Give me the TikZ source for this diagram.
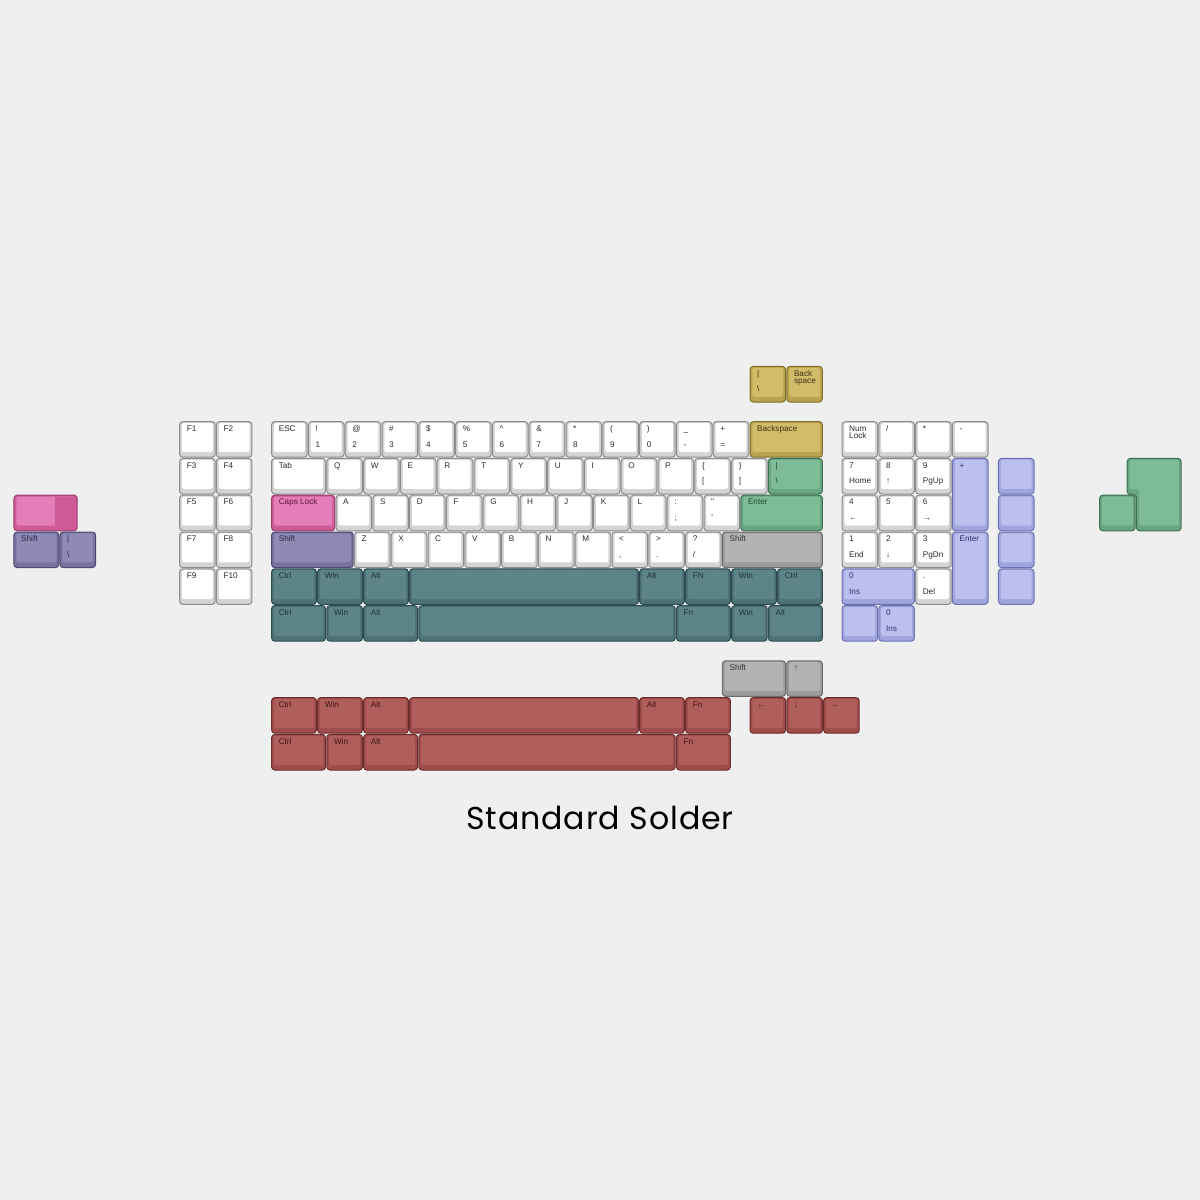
\documentclass[tikz,border=0pt]{standalone}
\usepackage{fontspec}
\usepackage{tikz}
\newfontfamily\keyfont{Liberation Sans}
\newfontfamily\titlefont{Poppins}[LetterSpace=3.0]

\definecolor{paper}{HTML}{EFEFEF}
\definecolor{whiteline}{HTML}{8C8C8C}\definecolor{whiterim}{HTML}{D4D4D4}
\definecolor{whitetop}{HTML}{FFFFFF}\definecolor{whiteink}{HTML}{2B2B2B}
\definecolor{tealline}{HTML}{2E4C4F}\definecolor{tealrim}{HTML}{4E7377}
\definecolor{tealtop}{HTML}{5D8488}\definecolor{tealink}{HTML}{1F3335}
\definecolor{redline}{HTML}{6B2C2C}\definecolor{redrim}{HTML}{9E4D4C}
\definecolor{redtop}{HTML}{B05E5C}\definecolor{redink}{HTML}{3D1616}
\definecolor{yelline}{HTML}{7F6F2E}\definecolor{yelrim}{HTML}{BBA24E}
\definecolor{yeltop}{HTML}{D2BC69}\definecolor{yelink}{HTML}{3E3410}
\definecolor{grnline}{HTML}{3D7153}\definecolor{grnrim}{HTML}{67A680}
\definecolor{grntop}{HTML}{7EBC98}\definecolor{grnink}{HTML}{1F4630}
\definecolor{pnkline}{HTML}{9A3C6C}\definecolor{pnkrim}{HTML}{CC5B97}
\definecolor{pnktop}{HTML}{E47DB8}\definecolor{pnkink}{HTML}{5A1A3C}
\definecolor{purline}{HTML}{4C4870}\definecolor{purrim}{HTML}{77729E}
\definecolor{purtop}{HTML}{8E89B5}\definecolor{purink}{HTML}{2A2745}
\definecolor{gryline}{HTML}{6C6C6C}\definecolor{gryrim}{HTML}{9B9B9B}
\definecolor{grytop}{HTML}{B3B3B3}\definecolor{gryink}{HTML}{333333}
\definecolor{lavline}{HTML}{6D72B2}\definecolor{lavrim}{HTML}{A1A5DD}
\definecolor{lavtop}{HTML}{BCC0EE}\definecolor{lavink}{HTML}{2D3170}

% name, colour, x, y, width, height, top legend, bottom legend
\newcommand{\keycap}[8]{%
  \node[cap=#2, minimum width=#5*18.4pt-0.6pt, minimum height=#6*18.4pt-0.6pt]
    (#1) at ([shift={(0.3pt,-0.3pt)}]#3,#4) {};
  \node[legend, text=#2ink] at ([shift={(3.4pt,-4.8pt)}]#1.north west) {#7};
  \node[legend, text=#2ink] at ([shift={(3.4pt,-12.7pt)}]#1.north west) {#8};
}

\begin{document}
\begin{tikzpicture}[
        x=18.4pt, y=-18.4pt,
        cap/.style={anchor=north west, draw=#1line, fill=#1rim, line width=0.5pt,
          rounded corners=1.6pt, inner sep=0pt, outer sep=0pt,
          path picture={\fill[#1top, rounded corners=1pt]
            ([shift={(1.2pt,-0.7pt)}]path picture bounding box.north west) rectangle
            ([shift={(-1.2pt,2.6pt)}]path picture bounding box.south east);}},
        legend/.style={anchor=base west, inner sep=0pt,
          font=\keyfont\fontsize{4.1pt}{4.4pt}\selectfont},
    ]
        \path[use as bounding box, fill=paper] (-135.5pt,210.5pt) rectangle (464.5pt,-389.5pt);

        % function keys
        \foreach \t [count=\i from 0] in {F1,F3,F5,F7,F9}
          {\keycap{fl\i}{white}{-2.5}{\i}{1}{1}{\t}{}}
        \foreach \t [count=\i from 0] in {F2,F4,F6,F8,F10}
          {\keycap{fr\i}{white}{-1.5}{\i}{1}{1}{\t}{}}

        % number row
        \foreach \x/\t/\b [count=\i] in {0/ESC/{}, 1/!/1, 2/@/2, 3/{\#}/3, 4/{\$}/4,
            5/{\%}/5, 6/{\^{}}/6, 7/{\&}/7, 8/*/8, 9/{(}/9, 10/{)}/0, 11/{\_}/-, 12/+/=}
          {\keycap{num\i}{white}{\x}{0}{1}{1}{\t}{\b}}
        \keycap{bksp}{yel}{13}{0}{2}{1}{Backspace}{}

        % alpha rows
        \keycap{tab}{white}{0}{1}{1.5}{1}{Tab}{}
        \foreach \t [count=\i from 0] in {Q,W,E,R,T,Y,U,I,O,P}
          {\keycap{top\i}{white}{1.5+\i}{1}{1}{1}{\t}{}}
        \keycap{lbrk}{white}{11.5}{1}{1}{1}{\{}{[}
        \keycap{rbrk}{white}{12.5}{1}{1}{1}{\}}{]}
        \keycap{bslash}{grn}{13.5}{1}{1.5}{1}{|}{\textbackslash}

        \keycap{caps}{pnk}{0}{2}{1.75}{1}{Caps Lock}{}
        \foreach \t [count=\i from 0] in {A,S,D,F,G,H,J,K,L}
          {\keycap{home\i}{white}{1.75+\i}{2}{1}{1}{\t}{}}
        \keycap{semi}{white}{10.75}{2}{1}{1}{:}{;}
        \keycap{quote}{white}{11.75}{2}{1}{1}{"}{'}
        \keycap{enter}{grn}{12.75}{2}{2.25}{1}{Enter}{}

        \keycap{lshift}{pur}{0}{3}{2.25}{1}{Shift}{}
        \foreach \t [count=\i from 0] in {Z,X,C,V,B,N,M}
          {\keycap{bot\i}{white}{2.25+\i}{3}{1}{1}{\t}{}}
        \keycap{comma}{white}{9.25}{3}{1}{1}{<}{,}
        \keycap{period}{white}{10.25}{3}{1}{1}{>}{.}
        \keycap{slash}{white}{11.25}{3}{1}{1}{?}{/}
        \keycap{rshift}{gry}{12.25}{3}{2.75}{1}{Shift}{}

        % teal modifier rows
        \foreach \x/\w/\t [count=\i] in {0/1.25/Ctrl, 1.25/1.25/Win, 2.5/1.25/Alt,
            3.75/6.25/{}, 10/1.25/Alt, 11.25/1.25/FN, 12.5/1.25/Win, 13.75/1.25/Ctrl}
          {\keycap{mod\i}{teal}{\x}{4}{\w}{1}{\t}{}}
        \foreach \x/\w/\t [count=\i] in {0/1.5/Ctrl, 1.5/1/Win, 2.5/1.5/Alt,
            4/7/{}, 11/1.5/Fn, 12.5/1/Win, 13.5/1.5/Alt}
          {\keycap{wkl\i}{teal}{\x}{5}{\w}{1}{\t}{}}

        % extra yellow keys
        \keycap{xpipe}{yel}{13}{-1.5}{1}{1}{|}{\textbackslash}
        \keycap{xbksp}{yel}{14}{-1.5}{1}{1}{Back}{}
        \node[legend, text=yelink] (xspace) at ([shift={(3.4pt,-8.6pt)}]xbksp.north west) {space};

        % numpad
        \keycap{numlock}{white}{15.5}{0}{1}{1}{Num}{}
        \node[legend, text=whiteink] (locklabel) at ([shift={(3.4pt,-8.6pt)}]numlock.north west) {Lock};
        \foreach \x/\t [count=\i] in {16.5/{/}, 17.5/*, 18.5/-}
          {\keycap{kpop\i}{white}{\x}{0}{1}{1}{\t}{}}
        \foreach \x/\y/\t/\b [count=\i] in {15.5/1/7/Home, 16.5/1/8/↑, 17.5/1/9/PgUp,
            15.5/2/4/←, 16.5/2/5/{}, 17.5/2/6/→, 15.5/3/1/End, 16.5/3/2/↓,
            17.5/3/3/PgDn, 17.5/4/./Del}
          {\keycap{kp\i}{white}{\x}{\y}{1}{1}{\t}{\b}}
        \keycap{kpplus}{lav}{18.5}{1}{1}{2}{+}{}
        \keycap{kpenter}{lav}{18.5}{3}{1}{2}{Enter}{}
        \keycap{kpzero}{lav}{15.5}{4}{2}{1}{0}{Ins}
        \keycap{kpblank}{lav}{15.5}{5}{1}{1}{}{}
        \keycap{kpins}{lav}{16.5}{5}{1}{1}{0}{Ins}
        \foreach \y [count=\i] in {1,...,4}
          {\keycap{kpside\i}{lav}{19.75}{\y}{1}{1}{}{}}

        % left extras
        \keycap{stepcaps}{pnk}{-7}{2}{1.75}{1}{}{}
        \fill[pnkrim] ([shift={(20.5pt,-0.7pt)}]stepcaps.north west)
          rectangle ([shift={(-1.2pt,2.6pt)}]stepcaps.south east);
        \keycap{xshift}{pur}{-7}{3}{1.25}{1}{Shift}{}
        \keycap{xbslash}{pur}{-5.75}{3}{1}{1}{|}{\textbackslash}

        % iso enter
        \draw[draw=grnline, fill=grnrim, line width=0.5pt, rounded corners=1.6pt]
          ([shift={(0.3pt,-0.3pt)}]23.25,1) -- ([shift={(-0.3pt,-0.3pt)}]24.75,1)
          -- ([shift={(-0.3pt,0.3pt)}]24.75,3) -- ([shift={(0.3pt,0.3pt)}]23.5,3)
          -- ([shift={(0.3pt,0pt)}]23.5,2) -- ([shift={(0.3pt,0pt)}]23.25,2) -- cycle;
        \fill[grntop, rounded corners=1pt]
          ([shift={(1.5pt,-1pt)}]23.25,1) -- ([shift={(-1.5pt,-1pt)}]24.75,1)
          -- ([shift={(-1.5pt,2.9pt)}]24.75,3) -- ([shift={(1.5pt,2.9pt)}]23.5,3)
          -- ([shift={(1.5pt,2.6pt)}]23.5,2) -- ([shift={(1.5pt,2.6pt)}]23.25,2) -- cycle;
        \keycap{isokey}{grn}{22.5}{2}{1}{1}{}{}

        % red modifier rows and arrows
        \keycap{ashift}{gry}{12.25}{6.5}{1.75}{1}{Shift}{}
        \keycap{aup}{gry}{14}{6.5}{1}{1}{↑}{}
        \foreach \x/\w/\t [count=\i] in {0/1.25/Ctrl, 1.25/1.25/Win, 2.5/1.25/Alt,
            3.75/6.25/{}, 10/1.25/Alt, 11.25/1.25/Fn, 13/1/←, 14/1/↓, 15/1/→}
          {\keycap{rmod\i}{red}{\x}{7.5}{\w}{1}{\t}{}}
        \foreach \x/\w/\t [count=\i] in {0/1.5/Ctrl, 1.5/1/Win, 2.5/1.5/Alt,
            4/7/{}, 11/1.5/Fn}
          {\keycap{rwkl\i}{red}{\x}{8.5}{\w}{1}{\t}{}}

        \node[font=\titlefont\fontsize{15.8pt}{18pt}\selectfont, anchor=base, inner sep=0pt]
          (title) at (164.5pt,-204pt) {Standard Solder};
    \end{tikzpicture}
\end{document}
